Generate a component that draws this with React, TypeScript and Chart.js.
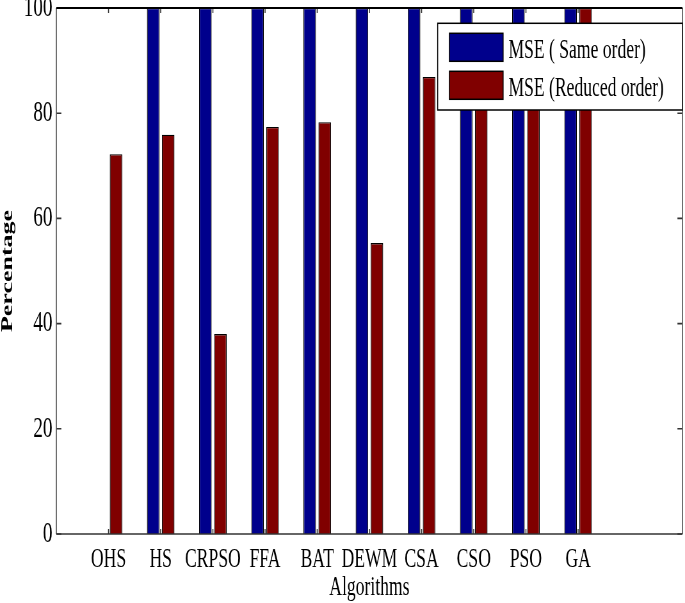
import React, { useEffect, useRef } from 'react';
import { Chart, registerables } from 'chart.js';

Chart.register(...registerables);

const categories = ['OHS', 'HS', 'CRPSO', 'FFA', 'BAT', 'DEWM', 'CSA', 'CSO', 'PSO', 'GA'];
const sameOrder = [0, 100, 100, 100, 100, 100, 100, 100, 100, 100];
const reducedOrder = [72.2, 75.9, 38.0, 77.4, 78.3, 55.3, 86.9, 90, 93, 100];
const seriesNames = ['MSE ( Same order)', 'MSE (Reduced order)'];
const seriesColors = ['#00008C', '#800000'];
const yTicks = [0, 20, 40, 60, 80, 100];

// horizontal squeeze of the original figure
const S = 0.64;
const CSS_W = 685;
const CSS_H = 603;
const W = Math.round(CSS_W / S);
const H = CSS_H;
const FONT = '"Liberation Serif", "Times New Roman", serif';

const framePlugin = {
  id: 'frame',
  afterDatasetsDraw(chart: any) {
    const { ctx, chartArea, scales } = chart;
    const { left, right, top, bottom } = chartArea;
    const x = scales.x;
    const y = scales.y;
    const tickH = 5 / S;
    const tickV = 5;
    ctx.save();
    ctx.strokeStyle = '#333';
    ctx.lineWidth = 1.6;
    ctx.beginPath();
    yTicks.forEach((v) => {
      const py = y.getPixelForValue(v);
      ctx.moveTo(left, py);
      ctx.lineTo(left + tickH, py);
      ctx.moveTo(right, py);
      ctx.lineTo(right - tickH, py);
    });
    ctx.stroke();
    ctx.lineWidth = 1.6;
    ctx.beginPath();
    categories.forEach((c, i) => {
      const px = x.getPixelForValue(i + 1);
      ctx.moveTo(px, bottom);
      ctx.lineTo(px, bottom - tickV);
      ctx.moveTo(px, top);
      ctx.lineTo(px, top + tickV);
    });
    ctx.stroke();
    // frame
    ctx.strokeStyle = '#555';
    ctx.lineWidth = 1.7;
    ctx.beginPath();
    ctx.moveTo(left, top);
    ctx.lineTo(left, bottom);
    ctx.moveTo(right, top);
    ctx.lineTo(right, bottom);
    ctx.stroke();
    ctx.strokeStyle = '#333';
    ctx.lineWidth = 1.5;
    ctx.beginPath();
    ctx.moveTo(left, bottom);
    ctx.lineTo(right, bottom);
    ctx.stroke();
    ctx.strokeStyle = '#000';
    ctx.lineWidth = 2;
    ctx.beginPath();
    ctx.moveTo(left, top);
    ctx.lineTo(right, top);
    ctx.stroke();
    ctx.restore();
  },
  afterDraw(chart: any) {
    const { ctx, chartArea } = chart;
    const boxW = (682 - 437.3) / S;
    const boxRight = chartArea.right;
    const boxLeft = boxRight - boxW;
    const boxTop = chartArea.top + 15.3;
    const boxH = 86.7;
    ctx.save();
    ctx.fillStyle = '#fff';
    ctx.fillRect(boxLeft, boxTop, boxW, boxH);
    ctx.strokeStyle = '#000';
    ctx.lineWidth = 1.5;
    ctx.strokeRect(boxLeft, boxTop, boxW, boxH);
    const swX = boxLeft + (449 - 437.3) / S;
    const swW = (502.7 - 449) / S;
    const swH = 28;
    const textX = boxLeft + (508 - 437.3) / S;
    chart.data.datasets.forEach((ds: any, i: number) => {
      const sy = boxTop + 10 + i * 38;
      ctx.fillStyle = ds.backgroundColor;
      ctx.fillRect(swX, sy, swW, swH);
      ctx.lineWidth = 1.5;
      ctx.strokeStyle = '#000';
      ctx.strokeRect(swX, sy, swW, swH);
      ctx.fillStyle = '#000';
      ctx.font = `27.5px ${FONT}`;
      ctx.textAlign = 'left';
      ctx.textBaseline = 'alphabetic';
      ctx.fillText(ds.label, textX, sy + 24.5);
    });
    ctx.restore();
  },
};

export default function App() {
  const ref = useRef<HTMLCanvasElement | null>(null);

  useEffect(() => {
    const canvas = ref.current;
    if (!canvas) return;
    const labels = ['', ...categories, '', ''];
    const pad = (arr: number[]) => [null, ...arr, null, null];
    const chart = new Chart(canvas, {
      type: 'bar',
      data: {
        labels,
        datasets: [
          {
            label: seriesNames[0],
            data: pad(sameOrder) as any,
            backgroundColor: seriesColors[0],
            borderColor: '#000',
            borderWidth: 1.3,
            categoryPercentage: 0.575,
            barPercentage: 0.835,
          },
          {
            label: seriesNames[1],
            data: pad(reducedOrder) as any,
            backgroundColor: seriesColors[1],
            borderColor: '#000',
            borderWidth: 1.3,
            categoryPercentage: 0.575,
            barPercentage: 0.835,
          },
        ],
      },
      options: {
        responsive: false,
        animation: false,
        devicePixelRatio: 1,
        events: [],
        layout: { padding: { top: 8, right: W - Math.round(682 / S), left: 0, bottom: 0 } },
        plugins: { legend: { display: false }, tooltip: { enabled: false } },
        scales: {
          x: {
            type: 'category',
            offset: false,
            grid: { display: false, drawTicks: false },
            border: { display: false },
            ticks: {
              autoSkip: false,
              maxRotation: 0,
              minRotation: 0,
              padding: 9,
              color: '#000',
              font: { family: FONT, size: 27.5 },
            },
            title: {
              display: true,
              text: 'Algorithms',
              color: '#000',
              font: { family: FONT, size: 27.5, lineHeight: 1.1 },
              padding: 0,
            },
            afterFit: (s: any) => {
              s.height = H - 534;
              s.paddingLeft = 0;
              s.paddingRight = 0;
            },
          },
          y: {
            min: 0,
            max: 100,
            afterBuildTicks: (s: any) => {
              s.ticks = yTicks.map((v) => ({ value: v }));
            },
            grid: { display: false, drawTicks: false },
            border: { display: false },
            ticks: {
              padding: 6,
              color: '#000',
              font: { family: FONT, size: 30 },
            },
            title: {
              display: true,
              text: 'Percentage',
              color: '#000',
              font: { family: FONT, size: 26, weight: 'bold', lineHeight: 0.95 },
              padding: 0,
            },
            afterFit: (s: any) => {
              s.width = Math.round(56 / S);
              s.paddingTop = 0;
              s.paddingBottom = 0;
            },
          },
        },
      },
      plugins: [framePlugin],
    } as any);
    return () => chart.destroy();
  }, []);

  return (
    <div style={{ position: 'absolute', left: 0, top: 0, width: CSS_W, height: CSS_H, background: '#fff' }}>
      <canvas
        ref={ref}
        width={W}
        height={H}
        style={{ width: `${CSS_W}px`, height: `${CSS_H}px`, display: 'block' }}
      />
    </div>
  );
}
